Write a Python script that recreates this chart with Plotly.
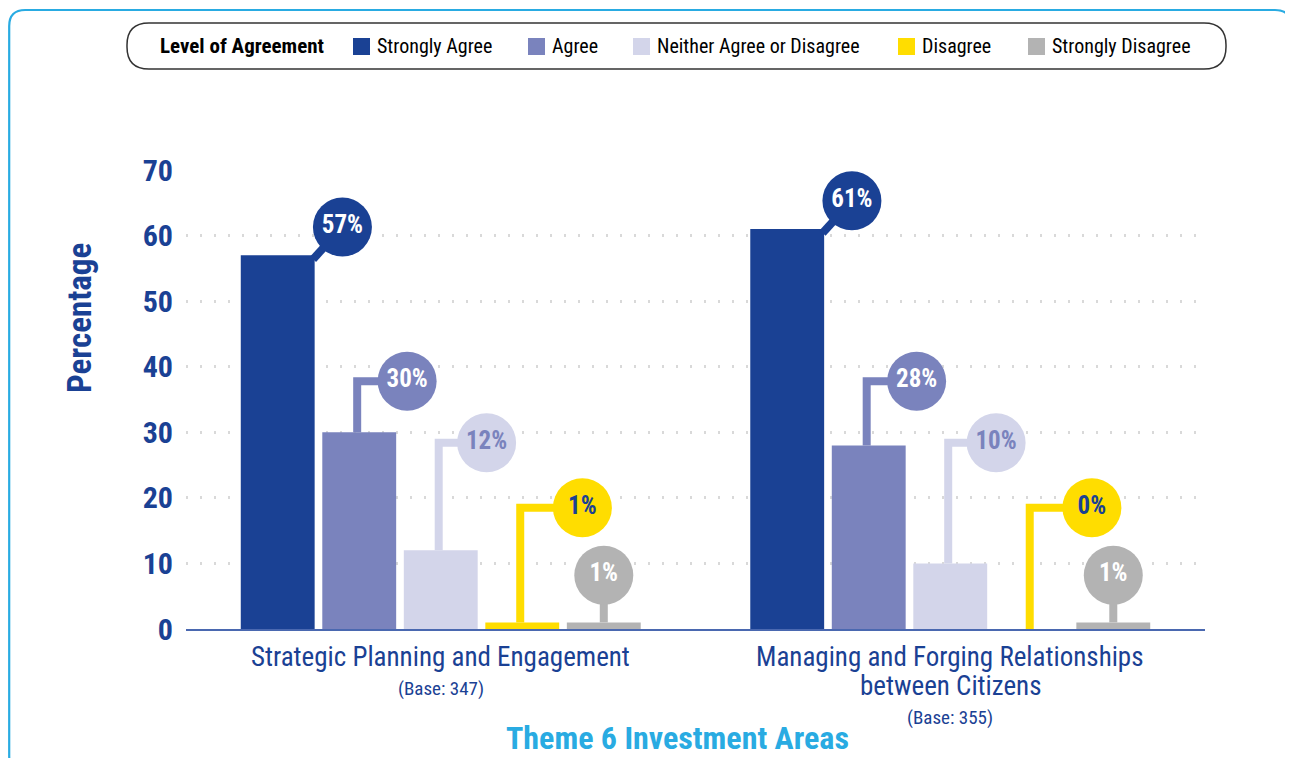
import plotly.graph_objects as go

# data
categories = [["Strategic Planning and Engagement"],
              ["Managing and Forging Relationships", "between Citizens"]]
bases = [347, 355]
series_names = ["Strongly Agree", "Agree", "Neither Agree or Disagree",
                "Disagree", "Strongly Disagree"]
strongly_agree = [57, 61]
agree = [30, 28]
neither = [12, 10]
disagree = [1, 0]
strongly_disagree = [1, 1]
series_values = [strongly_agree, agree, neither, disagree, strongly_disagree]

# styling
colors = ["#1a4194", "#7a83bd", "#d3d5ea", "#ffdd00", "#b3b3b3"]
label_colors = ["white", "white", "#7a83bd", "#1a4194", "white"]
DARK = "#1a4194"
CYAN = "#29abe2"
FONT = "Liberation Sans Narrow, Arial Narrow, Roboto Condensed, sans-serif"

OFF = 8  # page body margin, figure starts 8px in
W, H = 1293 - OFF, 758 - OFF
ML, MR, MT, MB = 186 - OFF, 88, 170 - OFF, 129
PW, PH = W - ML - MR, H - MT - MB

STEP = 0.16      # distance between bars of one group (x units)
BAR_W = 0.145
# label circle placement per series: (kind, dx from bar centre, min height)
label_style = [("diag", 0.127, 0), ("elbow", 0.094, 37.8), ("elbow", 0.09, 28.4),
               ("elbow", 0.118, 18.5), ("stem", 0.0, 8.2)]


def px(x, y):
    # reference-picture pixel -> paper fraction
    x, y = x - OFF, y - OFF
    return (x - ML) / PW, (H - MB - y) / PH


def rounded(x0, y0, x1, y1, r):
    def p(x, y):
        a, b = px(x, y)
        return f"{a:.5f},{b:.5f}"
    pts = ["M" + p(x0 + r, y0),
           "L" + p(x1 - r, y0),
           "Q" + p(x1, y0) + " " + p(x1, y0 + r),
           "L" + p(x1, y1 - r),
           "Q" + p(x1, y1) + " " + p(x1 - r, y1),
           "L" + p(x0 + r, y1),
           "Q" + p(x0, y1) + " " + p(x0, y1 - r),
           "L" + p(x0, y0 + r),
           "Q" + p(x0, y0) + " " + p(x0 + r, y0)]
    return " ".join(pts) + " Z"


fig = go.Figure()

for i, (name, vals) in enumerate(zip(series_names, series_values)):
    xs = [c + (i - 2) * STEP for c in range(len(categories))]
    fig.add_trace(go.Bar(x=xs, y=vals, width=BAR_W, name=name,
                         marker=dict(color=colors[i], line=dict(width=0)),
                         showlegend=False))

for i, vals in enumerate(series_values):
    kind, dx, floor = label_style[i]
    cx, cy = [], []
    for c, v in enumerate(vals):
        xc = c + (i - 2) * STEP
        if kind == "diag":
            lx, ly = xc + dx, v + 4.3
            lines_x = [xc + BAR_W / 2 - 0.003, lx]
            lines_y = [v - 0.6, ly]
        elif kind == "elbow":
            lx, ly = xc + dx, max(v + 4.3, floor)
            lines_x = [xc - 0.004, xc - 0.004, lx]
            lines_y = [v, ly, ly]
        else:
            lx, ly = xc, max(v + 4.3, floor)
            lines_x = [xc, xc]
            lines_y = [v, ly]
        fig.add_trace(go.Scatter(x=lines_x, y=lines_y, mode="lines",
                                 line=dict(color=colors[i], width=8),
                                 hoverinfo="skip", showlegend=False,
                                 cliponaxis=False))
        cx.append(lx)
        cy.append(ly)
    fig.add_trace(go.Scatter(
        x=cx, y=cy, mode="markers+text",
        marker=dict(size=59, color=colors[i], line=dict(width=0)),
        text=[f"<b>{v}%</b>" for v in vals], textposition="middle center",
        textfont=dict(family=FONT, size=25, color=label_colors[i]),
        hoverinfo="skip", showlegend=False, cliponaxis=False))

shapes = [
    dict(type="path", xref="paper", yref="paper", path=rounded(9.2, 10, 1291, 772, 16),
         line=dict(color=CYAN, width=2.2), layer="below"),
    dict(type="path", xref="paper", yref="paper", path=rounded(127, 23, 1226, 69, 22),
         line=dict(color="#333333", width=1.5), layer="below"),
]
annotations = []

# category labels, one annotation per line, placed on the x axis scale
for c, (lines, base) in enumerate(zip(categories, bases)):
    for k, line in enumerate(lines):
        _, ly = px(0, 657 + 29 * k)
        annotations.append(dict(xref="x", yref="paper", x=c, y=ly, showarrow=False,
                                text=line, yanchor="middle",
                                font=dict(family=FONT, size=27, color=DARK)))
    _, ly = px(0, 659 + 29 * len(lines))
    annotations.append(dict(xref="x", yref="paper", x=c, y=ly, showarrow=False,
                            text=f"(Base: {base})", yanchor="middle",
                            font=dict(family=FONT, size=19, color=DARK)))

# legend drawn by hand to match the pill-shaped key
legend_x = [353, 528, 633, 898, 1028]
tx, ty = px(158, 46)
annotations.append(dict(xref="paper", yref="paper", x=tx, y=ty, xanchor="left",
                        yanchor="middle", showarrow=False,
                        text="<b>Level of Agreement</b>",
                        font=dict(family=FONT, size=21, color="black")))
for i, name in enumerate(series_names):
    x0 = legend_x[i]
    a0, b0 = px(x0, 55)
    a1, b1 = px(x0 + 17, 38)
    shapes.append(dict(type="rect", xref="paper", yref="paper", x0=a0, y0=b0,
                       x1=a1, y1=b1, fillcolor=colors[i], line=dict(width=0)))
    lx, ly = px(x0 + 22, 46)
    annotations.append(dict(xref="paper", yref="paper", x=lx, y=ly, xanchor="left",
                            yanchor="middle", showarrow=False, text=name,
                            font=dict(family=FONT, size=20, color="black")))

ax, ay = px(79, 318)
annotations.append(dict(xref="paper", yref="paper", x=ax, y=ay, textangle=-90,
                        xanchor="center", yanchor="middle",
                        showarrow=False, text="<b>Percentage</b>",
                        font=dict(family=FONT, size=33, color=DARK)))
tx, ty = px(677, 738)
annotations.append(dict(xref="paper", yref="paper", x=tx, y=ty, showarrow=False,
                        text="<b>Theme 6 Investment Areas</b>", yanchor="middle",
                        font=dict(family=FONT, size=32, color=CYAN)))

fig.update_layout(
    width=W, height=H, autosize=False,
    margin=dict(l=ML, r=MR, t=MT, b=MB),
    paper_bgcolor="white", plot_bgcolor="white",
    barmode="overlay", showlegend=False,
    shapes=shapes, annotations=annotations,
    xaxis=dict(range=[-0.5, 1.5], showticklabels=False,
               showgrid=False, zeroline=False, showline=True,
               linecolor="#4a68b0", linewidth=2, ticks=""),
    yaxis=dict(range=[0, 70], dtick=10, showgrid=True, gridcolor="#d9d9d9",
               griddash="2px,12px", gridwidth=3, zeroline=False,
               ticks="", ticklabelstandoff=12,
               tickfont=dict(family=FONT, size=30, color=DARK, weight="bold")),
)

fig.write_html("out.html")
